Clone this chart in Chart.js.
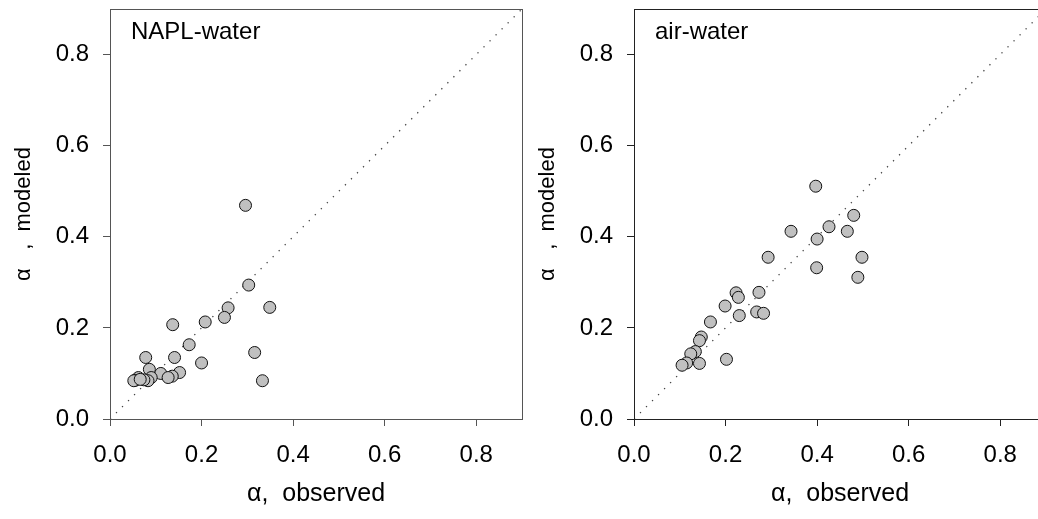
<!DOCTYPE html>
<html>
<head>
<meta charset="utf-8">
<script src="https://cdn.jsdelivr.net/npm/chart.js@4.4.1/dist/chart.umd.min.js"></script>
<style>
  html, body { margin: 0; padding: 0; width: 1038px; height: 519px; overflow: hidden; background: #fff; }
  .panel { position: absolute; top: 0; width: 530px; height: 519px; }
  #leftPanel { left: 0; }
  #rightPanel { left: 524px; }
</style>
</head>
<body>
<div class="panel" id="leftPanel"><canvas id="napl" width="530" height="519"></canvas></div>
<div class="panel" id="rightPanel"><canvas id="air" width="530" height="519"></canvas></div>
<script>
// NAPL-water interfacial coefficient: observed vs modeled
const naplObserved = [0.296, 0.303, 0.349, 0.258, 0.250, 0.208, 0.137, 0.173, 0.078, 0.141,
                      0.200, 0.316, 0.333, 0.086, 0.111, 0.152, 0.136, 0.127, 0.090, 0.083,
                      0.074, 0.062, 0.055, 0.052, 0.066];
const naplModeled  = [0.469, 0.294, 0.245, 0.244, 0.223, 0.213, 0.207, 0.163, 0.135, 0.135,
                      0.123, 0.146, 0.084, 0.109, 0.100, 0.102, 0.094, 0.091, 0.091, 0.084,
                      0.086, 0.091, 0.085, 0.084, 0.087];

// air-water interfacial coefficient: observed vs modeled
const airObserved = [0.397, 0.480, 0.426, 0.466, 0.343, 0.400, 0.293, 0.498, 0.399, 0.489,
                     0.273, 0.223, 0.228, 0.199, 0.268, 0.283, 0.230, 0.167, 0.147, 0.143,
                     0.134, 0.124, 0.202, 0.115, 0.143, 0.105];
const airModeled  = [0.511, 0.447, 0.422, 0.412, 0.412, 0.395, 0.355, 0.355, 0.332, 0.311,
                     0.278, 0.277, 0.267, 0.248, 0.235, 0.232, 0.227, 0.213, 0.180, 0.172,
                     0.148, 0.143, 0.131, 0.123, 0.122, 0.118];

// shared axis settings
const axisMin = 0;
const axisMax = 0.9;
const tickValues = [0.0, 0.2, 0.4, 0.6, 0.8];
const oneToOne = [0, 0.9];

const FONT = 'Liberation Sans, Arial, Helvetica, sans-serif';

// draws the box round the plotting region and the panel caption
const framePlugin = {
  id: 'frame',
  afterDraw(chart, args, opts) {
    const { ctx, chartArea: a } = chart;
    ctx.save();
    ctx.strokeStyle = opts.color;
    ctx.lineWidth = 1;
    ctx.strokeRect(Math.round(a.left) + 0.5, Math.round(a.top) + 0.5,
                   Math.round(a.right - a.left), Math.round(a.bottom - a.top));
    ctx.fillStyle = '#000';
    ctx.font = '24px ' + FONT;
    ctx.textBaseline = 'alphabetic';
    ctx.textAlign = 'left';
    ctx.fillText(opts.caption, a.left + 21, 39);
    ctx.restore();
  }
};

function makeAxis(titleText, horizontal, lineColor) {
  return {
    type: 'linear',
    position: horizontal ? 'bottom' : 'left',
    min: axisMin,
    max: axisMax,
    afterBuildTicks(scale) {
      scale.ticks = tickValues.map(v => ({ value: v }));
    },
    afterFit(scale) {
      if (horizontal) scale.height = 100; else scale.width = 110;
      // keep the plotting region fixed: no extra room for edge labels
      scale.paddingTop = 0;
      scale.paddingBottom = 0;
      scale.paddingLeft = 0;
      scale.paddingRight = 0;
    },
    ticks: {
      autoSkip: false,
      maxRotation: 0,
      padding: horizontal ? 15 : 14,
      color: '#000',
      font: { family: FONT, size: 24 },
      callback: v => Number(v).toFixed(1)
    },
    grid: {
      display: true,
      drawOnChartArea: false,
      drawTicks: true,
      tickLength: 7,
      tickColor: lineColor,
      color: lineColor
    },
    border: { display: true, color: lineColor, width: 1 },
    title: {
      display: true,
      text: titleText,
      color: '#000',
      font: { family: FONT, size: horizontal ? 25 : 22 },
      padding: horizontal ? { top: 0, bottom: 10 } : { top: 11, bottom: 0 }
    }
  };
}

function makeChart(canvasId, xs, ys, caption, lineColor) {
  const pts = xs.map((x, i) => ({ x: x, y: ys[i] }));
  return new Chart(document.getElementById(canvasId), {
    type: 'scatter',
    data: {
      datasets: [
        {
          label: caption,
          data: pts,
          pointRadius: 6,
          pointHoverRadius: 6,
          pointBackgroundColor: '#c0c0c0',
          pointBorderColor: '#111',
          pointBorderWidth: 1
        },
        {
          type: 'line',
          label: '1:1',
          data: oneToOne.map(v => ({ x: v, y: v })),
          borderColor: '#444',
          borderWidth: 1.3,
          borderDash: [1.3, 7.2],
          pointRadius: 0,
          fill: false
        }
      ]
    },
    options: {
      responsive: false,
      devicePixelRatio: 1,
      animation: false,
      layout: { padding: { top: 9, right: 8, left: 0, bottom: 0 } },
      scales: {
        x: makeAxis('\u03b1,  observed', true, lineColor),
        y: makeAxis('\u03b1   ,  modeled', false, lineColor)
      },
      plugins: {
        legend: { display: false },
        tooltip: { enabled: false },
        frame: { color: lineColor, caption: caption }
      }
    },
    plugins: [framePlugin]
  });
}

makeChart('napl', naplObserved, naplModeled, 'NAPL-water', '#555');
makeChart('air', airObserved, airModeled, 'air-water', '#222');
</script>
</body>
</html>
